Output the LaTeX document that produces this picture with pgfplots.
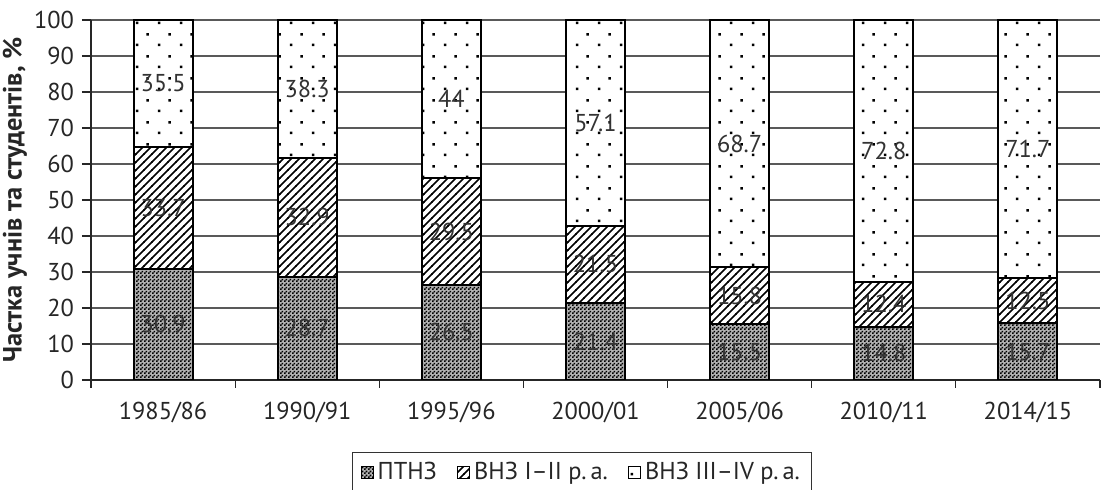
\documentclass[border=0pt]{standalone}
\usepackage{fontspec}
\setmainfont{PT Sans}
\usepackage{pgfplots}
\usepackage{pgfplotstable}
\pgfplotsset{compat=1.18}
\usetikzlibrary{patterns}

\pgfdeclarepatternformonly{checker}{\pgfqpoint{0pt}{0pt}}{\pgfqpoint{2pt}{2pt}}{\pgfqpoint{2pt}{2pt}}{%
 \pgfpathrectangle{\pgfqpoint{0pt}{0pt}}{\pgfqpoint{1pt}{1pt}}%
 \pgfpathrectangle{\pgfqpoint{1pt}{1pt}}{\pgfqpoint{1pt}{1pt}}%
 \pgfusepath{fill}}
\pgfdeclarepatternformonly{diag}{\pgfqpoint{-0.5pt}{-0.5pt}}{\pgfqpoint{4.5pt}{4.5pt}}{\pgfqpoint{4pt}{4pt}}{%
 \pgfsetlinewidth{0.8pt}%
 \pgfpathmoveto{\pgfqpoint{-0.2pt}{-0.2pt}}\pgfpathlineto{\pgfqpoint{4.2pt}{4.2pt}}\pgfusepath{stroke}}
\pgfdeclarepatternformonly{sdots}{\pgfqpoint{0pt}{0pt}}{\pgfqpoint{11pt}{11pt}}{\pgfqpoint{11pt}{11pt}}{%
 \pgfpathrectangle{\pgfqpoint{2pt}{2pt}}{\pgfqpoint{1.3pt}{1.3pt}}%
 \pgfpathrectangle{\pgfqpoint{7.5pt}{7.5pt}}{\pgfqpoint{1.3pt}{1.3pt}}%
 \pgfusepath{fill}}

\pgfplotstableread{
x a b c
0 30.9 33.7 35.5
1 28.7 32.9 38.3
2 26.5 29.5 44
3 21.4 21.5 57.1
4 15.5 15.8 68.7
5 14.8 12.4 72.8
6 15.7 12.5 71.7
}\shares

% label positions (segment centres) and label texts
\pgfplotstableread{
x ya va yb vb yc vc
0 15.45 30.9 47.75 33.7 82.35 35.5
1 14.35 28.7 45.15 32.9 80.75 38.3
2 13.25 26.5 41.25 29.5 78.00 44
3 10.70 21.4 32.15 21.5 71.45 57.1
4 7.75 15.5 23.40 15.8 65.65 68.7
5 7.40 14.8 21.00 12.4 63.60 72.8
6 7.85 15.7 21.95 12.5 64.05 71.7
}\labels

\newcommand\fs{\fontsize{12.2}{14}\selectfont}

\begin{document}
\begin{tikzpicture}[font=\fs]
\useasboundingbox (-45.5pt,-55pt) rectangle (511pt,190pt);
\begin{axis}[
  scale only axis, width=504.5pt, height=180pt,
  xmin=-0.5, xmax=6.5, ymin=0, ymax=100,
  ybar stacked, bar width=29.5pt,
  axis x line*=bottom, axis y line*=left,
  axis line style={black!85, line width=0.6pt},
  xtick={0,...,6},
  xticklabels={1985/86,1990/91,1995/96,2000/01,2005/06,2010/11,2014/15},
  major x tick style={draw=none},
  minor xtick={-0.5,0.5,...,6.5},
  minor tick length=4pt,
  major tick length=4.5pt,
  tick align=outside,
  tick style={black!85, line width=0.6pt},
  ytick={0,10,...,100},
  ymajorgrids, grid style={black!65, line width=0.6pt},
  /pgf/number format/assume math mode=true,
  ticklabel style={text=black!85, font=\fs},
  xticklabel style={yshift=-3pt},
  yticklabel style={xshift=-0.5pt},
  ylabel={Частка учнів та студентів, \%},
  ylabel style={font=\fontsize{13.2}{15}\selectfont\bfseries, text=black!85, at={(axis description cs:-0.0753,0.5)}, anchor=center},
  legend columns=3,
  legend style={at={(axis description cs:0.2587,-0.2)}, anchor=north west,
    draw=black!80, line width=0.5pt, font=\fs, text=black!85,
    inner xsep=4pt, inner ysep=3pt,
    /tikz/every even column/.append style={column sep=8pt}},
  legend image code/.code={\draw[#1, line width=0.6pt] (0pt,-3pt) rectangle (6pt,3pt);},
]
\addplot[draw=black, line width=1pt, fill=black!30, postaction={pattern=checker}] table[x=x,y=a] {\shares};
\addplot[draw=black, line width=1pt, fill=white, postaction={pattern=diag}] table[x=x,y=b] {\shares};
\addplot[draw=black, line width=1pt, fill=white, postaction={pattern=sdots}] table[x=x,y=c] {\shares};
\legend{ПТНЗ, ВНЗ I–II р.\,а., ВНЗ III–IV р.\,а.}
\node[anchor=east, font=\fontsize{13.2}{15}\selectfont\bfseries, text=black!85, xshift=5pt, yshift=-24pt] at (rel axis cs:1,0) {Рік};
\end{axis}
\begin{axis}[
  scale only axis, width=504.5pt, height=180pt,
  xmin=-0.5, xmax=6.5, ymin=0, ymax=100,
  hide axis,
  nodes near coords,
  point meta=explicit symbolic,
  every node near coord/.append style={anchor=center, text=black!80, font=\fs, inner sep=0pt},
]
\addplot[draw=none, mark=none] table[x=x,y=ya,meta=va] {\labels};
\addplot[draw=none, mark=none] table[x=x,y=yb,meta=vb] {\labels};
\addplot[draw=none, mark=none] table[x=x,y=yc,meta=vc] {\labels};
\end{axis}
\end{tikzpicture}
\end{document}
